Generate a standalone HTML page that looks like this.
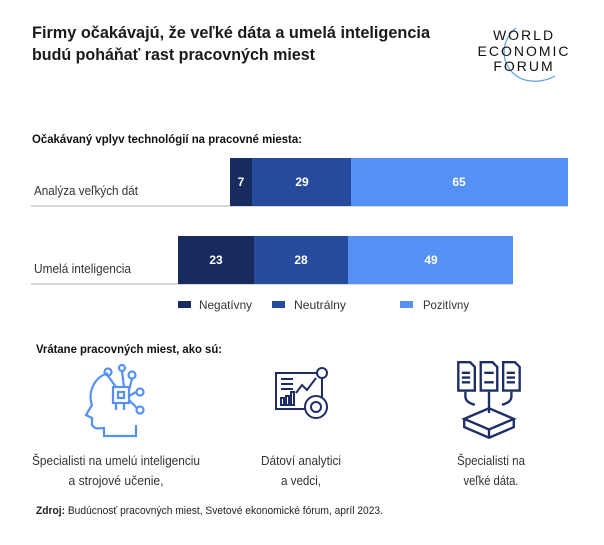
<!DOCTYPE html>
<html><head><meta charset="utf-8"><style>
html,body{margin:0;padding:0;background:#fff}
svg{display:block}
text{font-family:"Liberation Sans",sans-serif}
</style></head><body>
<svg width="604" height="545" viewBox="0 0 604 545" xmlns="http://www.w3.org/2000/svg">
<rect width="604" height="545" fill="#fff"/>
<text x="32" y="38" font-size="17" font-weight="bold" fill="#1a1a1a" textLength="398" lengthAdjust="spacingAndGlyphs">Firmy očakávajú, že veľké dáta a umelá inteligencia</text>
<text x="32" y="60" font-size="17" font-weight="bold" fill="#1a1a1a" textLength="283" lengthAdjust="spacingAndGlyphs">budú poháňať rast pracovných miest</text>
<path d="M516 28 C 498 42, 500 72, 525 80 C 537 83, 548 80, 555 76" fill="none" stroke="#5aa0e0" stroke-width="1.2"/>
<text x="524" y="40" font-size="14" fill="#111" text-anchor="middle" letter-spacing="2">WORLD</text>
<text x="524" y="56" font-size="14" fill="#111" text-anchor="middle" letter-spacing="2">ECONOMIC</text>
<text x="524" y="71" font-size="14" fill="#111" text-anchor="middle" letter-spacing="2">FORUM</text>
<text x="32" y="143" font-size="12" font-weight="bold" fill="#111" textLength="270" lengthAdjust="spacingAndGlyphs">Očakávaný vplyv technológií na pracovné miesta:</text>
<line x1="31" y1="206" x2="568" y2="206" stroke="#ccc" stroke-width="1.5"/>
<rect x="230" y="158" width="22" height="48" fill="#172b5e"/>
<rect x="252" y="158" width="99" height="48" fill="#264b9c"/>
<rect x="351" y="158" width="217" height="48" fill="#5591f5"/>
<text x="241" y="186" font-size="12" font-weight="bold" fill="#fff" text-anchor="middle">7</text>
<text x="302" y="186" font-size="12" font-weight="bold" fill="#fff" text-anchor="middle">29</text>
<text x="459" y="186" font-size="12" font-weight="bold" fill="#fff" text-anchor="middle">65</text>
<text x="34" y="195" font-size="13" fill="#333" textLength="104" lengthAdjust="spacingAndGlyphs">Analýza veľkých dát</text>
<line x1="31" y1="284" x2="513" y2="284" stroke="#ccc" stroke-width="1.5"/>
<rect x="178" y="236" width="76" height="48" fill="#172b5e"/>
<rect x="254" y="236" width="94" height="48" fill="#264b9c"/>
<rect x="348" y="236" width="165" height="48" fill="#5591f5"/>
<text x="216" y="264" font-size="12" font-weight="bold" fill="#fff" text-anchor="middle">23</text>
<text x="301" y="264" font-size="12" font-weight="bold" fill="#fff" text-anchor="middle">28</text>
<text x="431" y="264" font-size="12" font-weight="bold" fill="#fff" text-anchor="middle">49</text>
<text x="34" y="273" font-size="13" fill="#333" textLength="97" lengthAdjust="spacingAndGlyphs">Umelá inteligencia</text>
<rect x="178" y="301" width="13" height="7" fill="#172b5e"/>
<text x="199" y="309" font-size="12" fill="#333" textLength="53" lengthAdjust="spacingAndGlyphs">Negatívny</text>
<rect x="272" y="301" width="13" height="7" fill="#264b9c"/>
<text x="294" y="309" font-size="12" fill="#333" textLength="52" lengthAdjust="spacingAndGlyphs">Neutrálny</text>
<rect x="400" y="301" width="13" height="7" fill="#5591f5"/>
<text x="423" y="309" font-size="12" fill="#333" textLength="46" lengthAdjust="spacingAndGlyphs">Pozitívny</text>
<text x="36" y="353" font-size="12" font-weight="bold" fill="#111" textLength="186" lengthAdjust="spacingAndGlyphs">Vrátane pracovných miest, ako sú:</text>
<g fill="none" stroke="#5591f5" stroke-width="2.2">
<path d="M108 373 C 92 378, 88 395, 92 405 L 86 415 L 92 418 L 92 425 C 95 430, 100 428, 104 428 L 104 436 L 136 436 L 136 425"/>
<rect x="113" y="387" width="16" height="16"/>
<rect x="118" y="392" width="6" height="6"/>
<circle cx="108" cy="372" r="3.5"/><circle cx="132" cy="375" r="3.5"/><circle cx="140" cy="392" r="3.5"/><circle cx="140" cy="410" r="3.5"/><circle cx="122" cy="368" r="3"/>
<path d="M116 387 L 108 376 M124 387 L 122 371 M129 390 L 132 379 M129 396 L 136 392 M129 400 L 137 408 M116 403 L 116 410 M124 403 L 124 410"/>
</g>
<g fill="none" stroke="#1d2e66" stroke-width="2">
<rect x="276" y="373" width="46" height="36"/>
<path d="M281 379 h12 M281 384 h12 M281 389 h12"/>
<path d="M296 393 l6 -8 l5 5 l9 -12"/>
<circle cx="322" cy="373" r="5" fill="#fff"/>
<rect x="281" y="398" width="3" height="7"/><rect x="286" y="396" width="3" height="9"/><rect x="291" y="392" width="3" height="13"/>
<circle cx="316" cy="407" r="11" fill="#fff"/><circle cx="316" cy="407" r="5"/>
</g>
<g fill="none" stroke="#1d2e66" stroke-width="2" transform="translate(489 400) scale(1.18) translate(-487 -405)">
<path d="M461 373 h10 l4 4 v20 h-14 z"/><path d="M480 373 h10 l4 4 v20 h-14 z"/><path d="M499 373 h10 l4 4 v20 h-14 z"/>
<path d="M464 382 h7 M464 386 h7 M464 390 h7 M483 382 h8 M483 390 h8 M502 382 h7 M502 386 h7 M502 390 h7"/>
<path d="M467 398 v4 q0 5 8 7 M487 398 v18 M506 398 v4 q0 5 -8 7"/>
<path d="M466 421 l21 -9 l21 9 l-21 9 z M466 421 v7 l21 9 l21 -9 v-7 M487 430 v7"/>
</g>
<text x="116" y="465" font-size="13" fill="#333" text-anchor="middle" textLength="168" lengthAdjust="spacingAndGlyphs">Špecialisti na umelú inteligenciu</text>
<text x="116" y="485" font-size="13" fill="#333" text-anchor="middle" textLength="95" lengthAdjust="spacingAndGlyphs">a strojové učenie,</text>
<text x="301" y="465" font-size="13" fill="#333" text-anchor="middle" textLength="80" lengthAdjust="spacingAndGlyphs">Dátoví analytici</text>
<text x="301" y="485" font-size="13" fill="#333" text-anchor="middle" textLength="40" lengthAdjust="spacingAndGlyphs">a vedci,</text>
<text x="491" y="465" font-size="13" fill="#333" text-anchor="middle" textLength="68" lengthAdjust="spacingAndGlyphs">Špecialisti na</text>
<text x="491" y="485" font-size="13" fill="#333" text-anchor="middle" textLength="55" lengthAdjust="spacingAndGlyphs">veľké dáta.</text>
<text x="36" y="514" font-size="11" fill="#222" textLength="347" lengthAdjust="spacingAndGlyphs"><tspan font-weight="bold">Zdroj:</tspan> Budúcnosť pracovných miest, Svetové ekonomické fórum, apríl 2023.</text>
</svg>
</body></html>
